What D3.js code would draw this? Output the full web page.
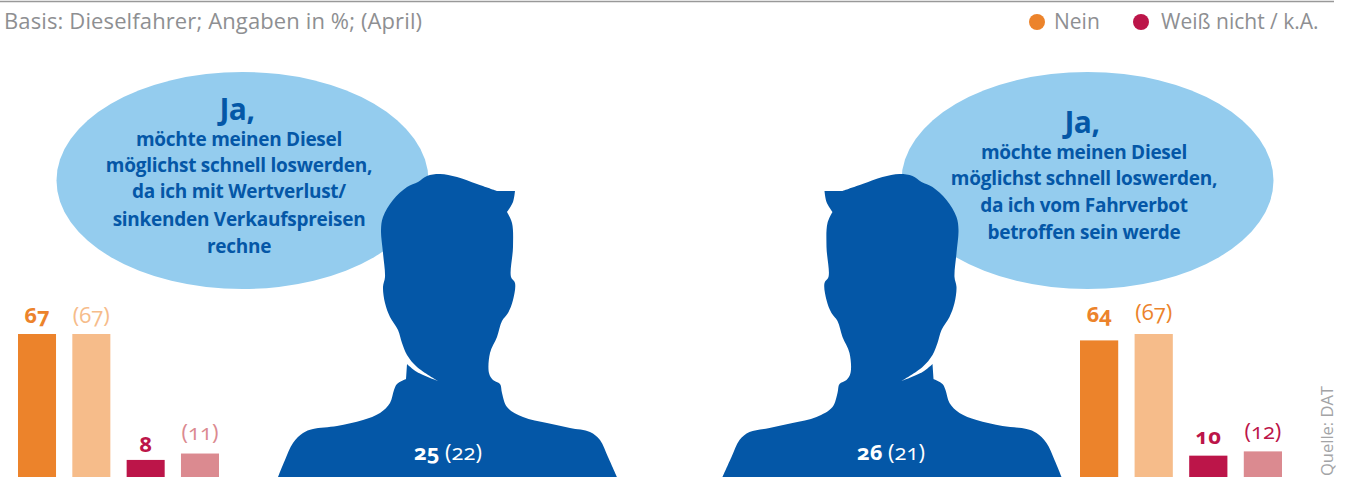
<!DOCTYPE html>
<html lang="de">
<head>
  <meta charset="UTF-8" />
  <title>Diesel</title>
  <script src="https://d3js.org/d3.v7.min.js"></script>
  <style>
    body { margin: 0; background: #fff; overflow: hidden; }
    svg { display: block; }
    text { font-family: "Open Sans", sans-serif; font-variant-numeric: oldstyle-nums; }
  </style>
</head>
<body>
  <svg id="chart" width="1348" height="477"></svg>
  <script>
    // data
    const categories = ["Nein", "Nein (Vorjahr)", "Weiß nicht/k.A.", "Weiß nicht/k.A. (Vorjahr)"];
    const leftValues = [67, 67, 8, 11];
    const rightValues = [64, 67, 10, 12];
    const leftLabels = ["67", "(67)", "8", "(11)"];
    const rightLabels = ["64", "(67)", "10", "(12)"];
    const leftJa = ["25", "(22)"];
    const rightJa = ["26", "(21)"];
    const leftLines = ["möchte meinen Diesel", "möglichst schnell loswerden,", "da ich mit Wertverlust/", "sinkenden Verkaufspreisen", "rechne"];
    const rightLines = ["möchte meinen Diesel", "möglichst schnell loswerden,", "da ich vom Fahrverbot", "betroffen sein werde"];
    const legendItems = ["Nein", "Weiß nicht / k.A."];

    const blue = "#0457a7", sky = "#94ccee", grey = "#8e8f92";
    const barColors = ["#ec832b", "#f6bc8a", "#bc1549", "#db8a90"];

    const svg = d3.select("#chart");
    const y = d3.scaleLinear().domain([0, 67]).range([477, 334]);

    // header
    svg.append("line").attr("x1", 0).attr("x2", 1334).attr("y1", 1.5).attr("y2", 1.5)
      .attr("stroke", "#999").attr("stroke-width", 1.5);
    svg.append("text").attr("x", 4).attr("y", 29).attr("fill", grey)
      .attr("font-size", 22).attr("letter-spacing", 0.12).text("Basis: Dieselfahrer; Angaben in %; (April)");

    const legendX = [{ dot: 1037, text: 1054 }, { dot: 1141, text: 1161 }];
    legendItems.forEach((d, i) => {
      svg.append("circle").attr("cx", legendX[i].dot).attr("cy", 22).attr("r", 8)
        .attr("fill", i === 0 ? barColors[0] : barColors[2]);
      svg.append("text").attr("x", legendX[i].text).attr("y", 29).attr("fill", grey)
        .attr("font-size", 21).text(d);
    });

    // silhouette outline, one list per smooth stretch, corners between them
    const outline = [
      [[278, 477], [285, 460], [293, 443], [303, 433], [313, 429], [337, 426], [363, 420], [380, 413], [390, 403], [394, 390], [397, 384], [406, 379]],
      [[406, 379], [407, 364]],
      [[407, 364], [417, 372], [438, 381]],
      [[438, 381], [417, 367], [407, 355], [402, 343], [398, 330], [390, 317], [385, 303], [383, 287], [385, 277], [383, 253], [381, 230], [383, 217], [393, 200], [407, 187], [418, 182], [427, 176], [440, 174], [457, 177], [477, 184], [497, 191]],
      [[497, 191], [515, 191]],
      [[515, 191], [513, 202], [507, 212]],
      [[507, 212], [512, 223], [513, 247], [511, 277], [515, 283], [513, 300], [508, 313], [502, 321], [497, 337], [490, 353], [489, 373], [493, 380], [500, 384], [502, 393], [507, 407], [523, 417], [547, 423], [570, 428], [590, 432], [600, 440], [608, 457], [617, 477]]
    ];
    const smooth = d3.line().curve(d3.curveCatmullRom.alpha(0.5));
    const personPath = outline.map((s, i) => {
      const d = smooth(s);
      return i === 0 ? d : d.replace(/^M/, "L");
    }).join("") + "Z";

    function panel(cfg) {
      const x = d3.scaleBand().domain(categories).range(cfg.range).paddingInner(0.3);

      // speech bubble
      svg.append("ellipse").attr("cx", cfg.bubble).attr("cy", 180.5).attr("rx", 186).attr("ry", 108.5).attr("fill", sky);
      const t = svg.append("g").attr("text-anchor", "middle").attr("fill", blue).attr("font-weight", 700);
      t.append("text").attr("x", cfg.textX - 2).attr("y", cfg.jaY).attr("font-size", 30).attr("letter-spacing", -0.5).text("Ja,");
      t.selectAll(".line").data(cfg.lines).join("text").attr("class", "line")
        .attr("x", cfg.textX).attr("y", (d, i) => cfg.lineY[i])
        .attr("font-size", 19).attr("letter-spacing", -0.27).text(d => d);

      // person
      svg.append("path").attr("d", personPath).attr("fill", blue)
        .attr("transform", cfg.mirror ? "translate(1339.5,0) scale(-1,1)" : null);
      const n = svg.append("text").attr("x", cfg.personX).attr("y", 460).attr("text-anchor", "middle")
        .attr("fill", "#fff").attr("font-size", 22);
      n.append("tspan").attr("font-weight", 700).text(cfg.ja[0] + " ");
      n.append("tspan").text(cfg.ja[1]);

      // bars
      svg.append("g").selectAll("rect").data(cfg.values).join("rect")
        .attr("x", (d, i) => x(categories[i])).attr("width", x.bandwidth())
        .attr("y", d => y(d)).attr("height", d => y(0) - y(d))
        .attr("fill", (d, i) => barColors[i]);
      svg.append("g").attr("text-anchor", "middle").selectAll("text").data(cfg.values).join("text")
        .attr("x", (d, i) => x(categories[i]) + x.bandwidth() / 2)
        .attr("y", (d, i) => y(d) - cfg.gaps[i])
        .attr("font-size", 22)
        .attr("font-weight", (d, i) => i % 2 === 0 ? 700 : 400)
        .attr("fill", (d, i) => cfg.labelColors[i])
        .text((d, i) => cfg.labels[i]);
    }

    panel({
      range: [18, 219], values: leftValues, labels: leftLabels, gaps: [11, 11, 8, 14],
      labelColors: [barColors[0], barColors[1], barColors[2], barColors[3]],
      bubble: 242.5, textX: 239, jaY: 120, lines: leftLines, lineY: [146, 172, 198, 226, 253],
      ja: leftJa, personX: 448, mirror: false
    });
    panel({
      range: [1080, 1282], values: rightValues, labels: rightLabels, gaps: [18, 14, 12, 12],
      labelColors: [barColors[0], barColors[0], barColors[2], barColors[2]],
      bubble: 1087.5, textX: 1084, jaY: 133, lines: rightLines, lineY: [159, 185, 212, 239],
      ja: rightJa, personX: 891, mirror: true
    });

    // source
    svg.append("text").attr("transform", "translate(1333,476) rotate(-90)")
      .attr("fill", "#a3a4a6").attr("font-size", 16.5).text("Quelle: DAT");
  </script>
</body>
</html>
